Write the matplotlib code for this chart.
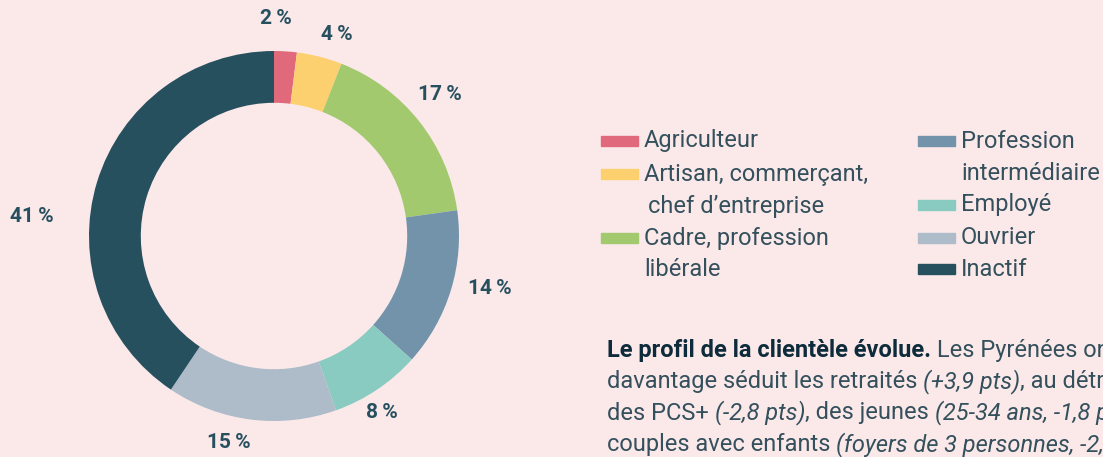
import matplotlib.pyplot as plt
from matplotlib.patches import Rectangle

categories = ["Agriculteur", "Artisan, commerçant,\nchef d’entreprise", "Cadre, profession\nlibérale",
              "Profession\nintermédiaire", "Employé", "Ouvrier", "Inactif"]
shares = [2, 4, 17, 14, 8, 15, 41]
colors = ["#e06a7b", "#fdd06f", "#a2c96e", "#7393ab", "#89cbc0", "#adbcc8", "#27505f"]

# label positions in pixels (hand placed, as in the original)
label_px = [(276, 18), (337, 35), (440, 95), (490, 288), (382, 413), (229, 442), (32, 217)]

paragraph = [
    [("Le profil de la clientèle évolue.", "bold"), (" Les Pyrénées ont", "normal")],
    [("davantage séduit les retraités ", "normal"), ("(+3,9 pts)", "italic"), (", au détriment", "normal")],
    [("des PCS+ ", "normal"), ("(-2,8 pts)", "italic"), (", des jeunes ", "normal"), ("(25-34 ans, -1,8 pts)", "italic")],
    [("couples avec enfants ", "normal"), ("(foyers de 3 personnes, -2,1 pts)", "italic")],
]

W, H = 1103, 457
bg = "#fbe9ea"
plt.rcParams['font.family'] = ['Roboto', 'DejaVu Sans']

fig = plt.figure(figsize=(W / 100, H / 100), dpi=100, facecolor=bg)

# donut: centre (274, 236), outer radius 185 px
cx, cy, r = 274, 236, 185
ax = fig.add_axes([(cx - r) / W, 1 - (cy + r) / H, 2 * r / W, 2 * r / H])
ax.set_facecolor(bg)
ax.pie(shares, colors=colors, startangle=90, counterclock=False,
       wedgeprops=dict(width=0.28, edgecolor="none"))
ax.set_aspect("equal")
ax.set_xlim(-1, 1)
ax.set_ylim(-1, 1)
ax.axis("off")

for v, (x, y) in zip(shares, label_px):
    fig.text(x / W, 1 - y / H, f"{v}\u2009%", ha="center", va="center",
             fontsize=15, fontweight="bold", color="#27505f")

# legend
text_col = "#34505c"
fs = 17
rows_left = [141, 174, 238]
rows_right = [141, 205, 238, 269]
line_h = 32
for i, (lab, col) in enumerate(zip(categories, colors)):
    if i < 3:
        x0, y0 = 601, rows_left[i]
    else:
        x0, y0 = 918, rows_right[i - 3]
    fig.patches.append(Rectangle((x0 / W, 1 - (y0 + 5) / H), 37 / W, 10 / H,
                                 transform=fig.transFigure, color=col, figure=fig))
    for j, part in enumerate(lab.split("\n")):
        indent = 4 if (i == 1 and j == 1) else 0
        fig.text((x0 + 43 + indent) / W, 1 - (y0 + j * line_h) / H, part, ha="left", va="center",
                 fontsize=fs, fontweight="normal", color=text_col)

# paragraph with mixed styles
fig.canvas.draw()
renderer = fig.canvas.get_renderer()
y = 350
for line in paragraph:
    x = 607
    for txt, style in line:
        kw = dict(fontsize=fs, va="center", ha="left")
        if style == "bold":
            t = fig.text(x / W, 1 - y / H, txt, fontweight="bold", color="#0d2b3a", **kw)
        elif style == "italic":
            t = fig.text(x / W, 1 - y / H, txt, fontstyle="italic", color=text_col, **kw)
        else:
            t = fig.text(x / W, 1 - y / H, txt, color=text_col, **kw)
        x += t.get_window_extent(renderer).width
    y += 31.5

fig.savefig("out.png", dpi=100, facecolor=bg)
